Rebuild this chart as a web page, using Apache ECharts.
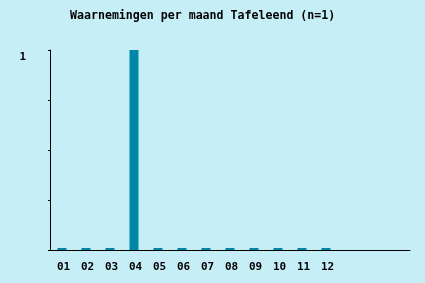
<!DOCTYPE html>
<html>
<head>
<meta charset="utf-8">
<script src="https://cdn.jsdelivr.net/npm/echarts@6/dist/echarts.min.js"></script>
<style>
html,body{margin:0;padding:0;background:#c6eef7;}
#c{width:425px;height:283px;}
</style>
</head>
<body>
<div id="c"></div>
<script>
const titleText = 'Waarnemingen per maand Tafeleend (n=1)';
const months = ['01','02','03','04','05','06','07','08','09','10','11','12','','',''];
const counts = [0,0,0,1,0,0,0,0,0,0,0,0];
const yTickLabels = {1: '1'};

const chart = echarts.init(document.getElementById('c'), null, {renderer: 'canvas'});
const font = 'DejaVu Sans Mono';
chart.setOption({
  animation: false,
  backgroundColor: '#c6eef7',
  title: {
    text: titleText,
    left: 65,
    top: 5,
    textStyle: {fontFamily: font, fontWeight: 'bold', fontSize: 11.6, color: '#000'}
  },
  grid: {left: 50, right: 15, top: 50, bottom: 33, containLabel: false},
  xAxis: {
    type: 'category',
    data: months,
    boundaryGap: true,
    axisLine: {lineStyle: {color: '#000', width: 1}},
    axisTick: {
      alignWithLabel: true,
      length: 3,
      lineStyle: {color: '#000'},
      interval: function (i) { return i < 12; }
    },
    axisLabel: {
      interval: 0,
      margin: 12,
      padding: [0, 0, 0, 3],
      fontFamily: font,
      fontWeight: 'bold',
      fontSize: 11,
      color: '#000'
    },
    splitLine: {show: false}
  },
  yAxis: {
    type: 'value',
    min: 0,
    max: 1,
    interval: 0.25,
    axisLine: {show: true, lineStyle: {color: '#000', width: 1}},
    axisTick: {show: true, length: 2, lineStyle: {color: '#000'}},
    axisLabel: {
      margin: 24,
      verticalAlign: 'top',
      lineHeight: 14,
      fontFamily: font,
      fontWeight: 'bold',
      fontSize: 11,
      color: '#000',
      formatter: function (v) { return yTickLabels[v] || ''; }
    },
    splitLine: {show: false}
  },
  series: [{
    type: 'bar',
    data: counts,
    barWidth: 9,
    barMinHeight: 2,
    itemStyle: {color: '#0087a8'}
  }]
});
</script>
</body>
</html>
